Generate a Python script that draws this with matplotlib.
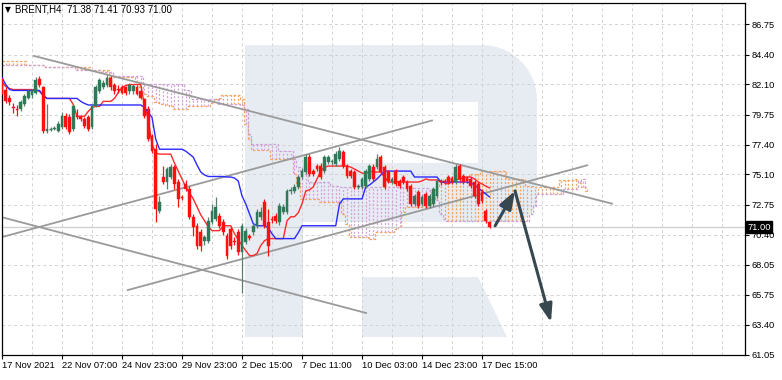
import numpy as np
import matplotlib
matplotlib.use("Agg")
import matplotlib.pyplot as plt
from matplotlib.patches import Polygon, Rectangle

# ---------------- data ----------------
opens = [82.47, 81.69, 81.07, 80.30, 80.15, 80.15, 80.53, 81.07, 81.23, 81.46,
         82.54, 81.85, 78.45, 78.60, 78.60, 78.45, 78.76, 79.61, 79.53, 78.60,
         79.61, 79.53, 79.37, 79.53, 78.76, 80.38, 81.54, 81.92, 82.08, 82.62,
         82.08, 81.77, 81.92, 81.85, 81.54, 81.54, 81.92, 81.54, 80.92, 80.15,
         78.06, 77.05, 72.26, 74.89, 74.50, 74.89, 75.66, 74.50, 73.34, 74.35,
         73.96, 71.80, 71.10, 70.64, 69.94, 69.94, 71.41, 71.64, 71.88, 71.41,
         70.33, 70.87, 69.94, 70.64, 69.09, 69.87, 70.33, 70.64, 71.10, 71.80,
         72.96, 71.41, 71.64, 71.88, 71.41, 72.19, 72.19, 73.81, 73.81, 74.12,
         74.89, 75.28, 76.44, 75.35, 75.74, 75.74, 75.35, 76.05, 76.05, 75.90,
         76.28, 76.82, 75.74, 75.35, 75.28, 74.12, 74.12, 74.19, 74.74, 75.66,
         75.66, 76.44, 75.66, 75.28, 74.50, 75.35, 74.58, 74.89, 74.50, 74.19,
         72.80, 73.73, 72.80, 73.58, 72.65, 72.80, 73.42, 74.58, 74.58, 74.89,
         74.81, 74.50, 75.74, 74.97, 74.81, 74.74, 74.50, 74.35, 73.73, 72.26,
         71.38]
highs = [82.62, 81.85, 81.23, 80.61, 80.46, 80.84, 81.31, 81.69, 81.77, 82.70,
         82.78, 82.00, 80.53, 78.76, 78.84, 79.22, 79.92, 79.84, 79.76, 80.53,
         80.15, 79.68, 79.53, 79.68, 80.53, 82.08, 82.62, 82.47, 82.85, 82.78,
         82.23, 82.08, 82.08, 82.00, 82.23, 82.15, 82.08, 81.77, 81.07, 80.38,
         78.21, 77.44, 73.42, 75.74, 75.66, 75.90, 75.82, 74.74, 73.50, 74.66,
         74.19, 72.03, 71.33, 70.87, 70.41, 71.80, 72.80, 73.34, 72.11, 71.64,
         70.56, 71.03, 70.25, 70.87, 71.33, 70.95, 70.48, 71.26, 72.42, 72.57,
         73.19, 72.42, 71.88, 72.11, 72.88, 72.80, 73.96, 74.12, 74.35, 75.05,
         75.59, 76.67, 76.67, 75.51, 75.90, 75.97, 76.59, 76.59, 76.28, 76.90,
         77.21, 76.98, 75.90, 75.51, 75.43, 74.35, 74.89, 75.51, 75.90, 75.90,
         76.67, 76.59, 75.82, 75.43, 74.89, 75.51, 74.74, 75.05, 74.66, 74.35,
         73.58, 73.89, 73.50, 73.73, 73.58, 74.12, 74.74, 74.74, 74.74, 75.05,
         74.97, 75.90, 75.90, 75.12, 74.97, 74.89, 74.66, 74.50, 73.96, 72.42,
         71.41]
lows = [81.31, 80.61, 80.46, 79.84, 79.61, 79.99, 80.38, 80.92, 81.07, 81.31,
        81.92, 78.29, 78.29, 78.45, 78.52, 78.37, 78.60, 78.60, 78.21, 78.45,
        79.37, 79.22, 78.68, 78.45, 78.60, 80.30, 81.46, 81.77, 81.92, 81.69,
        81.38, 81.46, 81.31, 81.23, 81.38, 81.38, 81.23, 80.92, 79.45, 77.67,
        76.75, 71.41, 72.11, 74.35, 73.96, 74.74, 73.96, 72.57, 73.11, 73.81,
        71.64, 70.33, 69.32, 69.17, 69.63, 69.79, 71.26, 71.49, 70.95, 70.41,
        68.55, 69.32, 69.63, 68.86, 65.85, 69.71, 70.02, 70.41, 70.95, 71.57,
        70.95, 68.78, 71.33, 71.33, 71.18, 72.03, 72.03, 73.58, 73.65, 73.96,
        74.74, 75.12, 74.97, 74.97, 75.35, 74.74, 75.20, 75.90, 75.82, 75.74,
        76.13, 75.59, 74.81, 74.81, 73.96, 73.96, 73.96, 74.04, 74.58, 74.58,
        75.51, 75.12, 73.96, 74.43, 74.35, 74.19, 74.04, 74.35, 73.81, 72.65,
        72.65, 72.49, 72.65, 72.49, 72.49, 72.65, 73.27, 74.27, 74.35, 74.35,
        74.35, 74.35, 74.58, 74.35, 74.43, 74.04, 73.27, 72.65, 72.88, 71.33,
        70.93]
closes = [81.46, 80.77, 80.69, 80.22, 80.07, 80.69, 81.15, 81.54, 81.62, 82.47,
          82.08, 78.45, 78.60, 78.62, 78.68, 78.99, 79.61, 78.76, 78.37, 80.38,
          79.53, 79.37, 78.84, 78.60, 80.38, 81.85, 82.47, 82.23, 82.62, 81.85,
          81.54, 81.69, 81.46, 81.46, 82.08, 82.00, 81.38, 81.07, 79.61, 77.83,
          76.90, 72.42, 72.96, 74.50, 75.51, 75.66, 74.35, 73.19, 73.27, 73.96,
          71.80, 71.03, 69.56, 69.56, 70.25, 71.49, 72.26, 72.57, 71.10, 70.64,
          68.71, 69.56, 69.87, 69.09, 71.10, 70.72, 70.18, 71.10, 72.19, 72.19,
          71.10, 69.56, 71.57, 71.49, 72.65, 72.57, 73.81, 73.89, 74.12, 74.89,
          75.35, 76.44, 75.12, 75.12, 75.51, 74.89, 76.44, 76.44, 76.13, 76.67,
          76.90, 75.74, 74.97, 74.97, 74.12, 74.19, 74.74, 75.35, 75.74, 74.74,
          76.28, 75.28, 74.12, 74.58, 74.74, 74.35, 74.19, 74.50, 73.96, 72.80,
          73.42, 72.65, 73.34, 72.65, 73.42, 73.96, 74.58, 74.47, 74.50, 74.50,
          74.50, 75.66, 74.74, 74.50, 74.58, 74.19, 73.42, 72.80, 73.04, 71.49,
          71.00]

tenkan = [82.31, 81.92, 81.77, 81.69, 81.69, 81.69, 81.69, 81.69, 81.69, 81.69,
          81.54, 81.23, 81.00, 81.00, 81.00, 81.00, 81.00, 81.00, 81.00, 80.53,
          79.61, 79.61, 79.61, 79.99, 80.30, 80.38, 80.38, 80.77, 80.77, 80.77,
          81.00, 81.46, 81.85, 82.00, 82.08, 82.08, 82.08, 82.08, 80.46, 79.37,
          77.44, 76.75, 76.67, 76.67, 76.67, 76.67, 75.97, 75.35, 74.74, 74.12,
          73.65, 73.19, 72.57, 71.95, 71.49, 71.03, 70.72, 70.72, 70.72, 71.10,
          71.10, 71.10, 70.48, 70.02, 69.56, 69.17, 68.78, 68.78, 68.94, 69.56,
          69.94, 70.10, 70.10, 70.10, 70.10, 70.10, 71.49, 71.80, 71.80, 72.11,
          72.80, 73.81, 73.89, 74.12, 74.74, 75.35, 75.66, 75.74, 75.74, 75.74,
          75.74, 75.74, 75.74, 75.66, 75.51, 75.35, 75.20, 75.12, 75.35, 75.28,
          75.28, 75.28, 74.89, 74.50, 74.50, 74.50, 74.50, 74.50, 74.50, 74.50,
          74.50, 74.50, 74.58, 74.74, 74.66, 74.66, 74.66, 74.58, 74.43, 74.35,
          74.50, 74.66, 74.74, 74.81, 74.89, 74.89, 74.74, 74.50, 74.35, 74.19,
          74.04]
kijun = [82.62, 82.08, 81.69, 81.62, 81.62, 81.62, 81.62, 81.62, 81.62, 81.62,
         81.62, 81.23, 81.00, 81.00, 81.00, 81.00, 81.00, 81.00, 81.00, 81.00,
         81.00, 80.77, 80.61, 80.49, 80.49, 80.49, 80.49, 80.49, 80.49, 80.49,
         80.49, 80.49, 80.49, 80.49, 80.49, 80.49, 80.49, 80.49, 80.30, 79.92,
         79.53, 77.83, 77.05, 77.05, 77.05, 77.05, 77.05, 77.05, 77.05, 76.90,
         76.67, 76.44, 75.82, 75.28, 75.05, 74.93, 74.93, 74.93, 74.93, 74.93,
         74.89, 74.89, 74.81, 74.58, 73.42, 72.80, 72.03, 71.26, 71.10, 71.10,
         71.10, 70.95, 70.48, 70.10, 70.10, 70.10, 70.10, 70.10, 70.10, 70.56,
         71.10, 71.10, 71.10, 71.10, 71.10, 71.10, 71.10, 71.10, 71.10, 71.10,
         72.80, 73.19, 73.19, 73.19, 73.19, 73.19, 73.19, 74.12, 74.27, 74.50,
         74.74, 75.05, 75.35, 75.35, 75.35, 75.35, 75.35, 75.35, 75.35, 75.35,
         74.89, 74.89, 74.89, 74.89, 74.89, 74.89, 74.89, 74.50, 74.50, 74.50,
         74.50, 74.50, 74.50, 74.50, 74.50, 74.43, 74.27, 74.04, 73.81, 73.58,
         73.34]

span_a = [83.93, 83.93, 83.93, 83.93, 83.93, 83.93, 83.93, 83.63, 83.63, 83.63,
          83.63, 83.63, 83.47, 83.47, 83.47, 83.47, 83.47, 83.47, 83.47, 83.47,
          83.47, 83.47, 83.47, 83.47, 83.24, 83.24, 83.24, 83.24, 83.24, 82.70,
          82.70, 82.70, 82.70, 82.70, 82.70, 82.70, 82.31, 81.85, 81.38, 81.15,
          81.15, 80.69, 80.61, 80.53, 80.46, 80.38, 80.15, 80.15, 80.15, 80.15,
          80.38, 80.38, 80.38, 80.38, 80.38, 80.38, 80.61, 80.92, 81.07, 81.23,
          81.23, 81.23, 81.23, 81.23, 80.92, 78.99, 77.83, 76.98, 76.98, 76.98,
          76.98, 76.98, 76.28, 76.28, 76.28, 76.28, 76.28, 76.28, 75.12, 74.43,
          73.19, 73.19, 73.19, 73.19, 73.19, 72.96, 72.96, 72.96, 72.96, 72.96,
          72.96, 72.03, 71.26, 70.25, 70.25, 70.25, 70.25, 70.25, 70.10, 70.10,
          70.64, 70.64, 70.64, 70.64, 70.64, 70.87, 71.03, 72.19, 72.57, 72.57,
          72.57, 72.57, 72.57, 72.57, 72.57, 73.19, 74.12, 74.50, 74.74, 74.74,
          74.74, 74.74, 74.74, 74.74, 74.74, 75.12, 75.12, 75.12, 75.35, 75.35,
          75.35, 75.35, 75.35, 75.35, 75.35, 74.74, 74.74, 74.74, 74.74, 74.74,
          74.19, 74.19, 74.12, 74.12, 74.12, 74.12, 74.12, 74.12, 74.12, 74.66,
          74.66, 74.66, 74.66, 74.74, 74.43, 74.12, 73.81]
span_b = [83.63, 83.63, 83.63, 83.63, 83.63, 83.63, 83.63, 83.63, 83.63, 83.63,
          83.63, 83.63, 83.47, 83.47, 83.47, 83.47, 83.47, 83.47, 83.47, 83.47,
          83.24, 83.24, 83.24, 83.24, 83.24, 83.24, 83.24, 83.08, 83.08, 83.08,
          82.78, 82.78, 82.78, 82.78, 82.78, 82.78, 82.78, 82.78, 82.16, 82.16,
          82.16, 82.16, 82.16, 82.16, 82.16, 82.16, 82.16, 82.16, 82.16, 81.69,
          81.69, 80.92, 80.92, 80.92, 80.92, 80.92, 80.92, 80.92, 80.53, 80.53,
          80.53, 80.53, 80.53, 80.53, 80.46, 80.15, 78.21, 77.44, 77.44, 77.44,
          77.44, 77.44, 77.44, 77.44, 76.90, 76.90, 76.90, 76.90, 76.28, 75.66,
          75.12, 75.12, 74.50, 74.50, 74.50, 74.50, 74.50, 74.50, 74.19, 74.19,
          74.12, 74.12, 74.12, 74.12, 74.12, 74.12, 74.12, 74.12, 74.12, 74.12,
          74.12, 74.12, 74.12, 74.12, 74.12, 74.12, 74.12, 74.12, 74.12, 74.12,
          74.04, 74.04, 74.04, 74.04, 73.89, 73.50, 73.11, 72.03, 71.64, 71.49,
          71.49, 71.49, 71.49, 71.49, 71.49, 71.49, 71.49, 71.49, 71.49, 71.49,
          71.49, 71.49, 71.49, 71.49, 71.49, 71.49, 71.49, 71.49, 71.49, 71.49,
          71.49, 72.03, 72.65, 73.58, 73.58, 73.58, 73.58, 73.58, 73.58, 73.58,
          73.96, 73.96, 73.96, 73.96, 74.58, 74.74, 74.12]

time_labels = ["17 Nov 2021", "22 Nov 07:00", "24 Nov 23:00", "29 Nov 23:00",
               "2 Dec 15:00", "7 Dec 11:00", "10 Dec 03:00", "14 Dec 23:00",
               "17 Dec 15:00"]
time_label_bars = [0, 16, 32, 48, 64, 80, 96, 112, 128]
price_ticks = [61.05, 63.40, 65.75, 68.05, 70.40, 72.75, 75.10, 77.40, 79.75,
               82.10, 84.40, 86.75]
last_price = 71.00
header_text = "BRENT,H4  71.38 71.41 70.93 71.00"

# analyst drawings: (bar, price) end points
trend_lines = [((8.3, 84.32), (162.9, 72.80)),
               ((-0.5, 71.80), (97.3, 64.30)),
               ((33.3, 66.08), (156.3, 75.82)),
               ((-0.5, 70.18), (114.9, 79.30))]
arrow_path = [(131.5, 71.10), (136.8, 73.81), (146.4, 63.60)]

# ---------------- figure ----------------
W, H = 782, 380
fig = plt.figure(figsize=(W / 100, H / 100), dpi=100)
left_px, right_px, top_px, bot_px = 1.5, 745, 3, 355
ax = fig.add_axes([left_px / W, 1 - bot_px / H, (right_px - left_px) / W,
                   (bot_px - top_px) / H])
ax.set_xlim(-0.13, 198.13)
ax.set_ylim(61.21, 88.42)
ax.set_facecolor("white")

# watermark logo (figure pixel geometry, decoration only)
def px(pts):
    return [(x / W, 1 - y / H) for x, y in pts]

wm = "#e7ecf3"
stem = [(245, 45), (303, 45), (303, 337), (245, 337)]
bowl = [(303, 45), (482, 45)]
for t in np.linspace(np.pi / 2, 0, 12):
    bowl.append((482 + 55 * np.cos(t), 100 - 55 * np.sin(t)))
bowl += [(537, 197)]
for t in np.linspace(0, -np.pi / 2, 8):
    bowl.append((512 + 25 * np.cos(t), 197 - 25 * np.sin(t)))
bowl += [(303, 222)]
leg = [(362, 277), (478, 277), (507, 337), (362, 337)]
hole = [(303, 102), (478, 102), (478, 163), (303, 163)]
for shape, col, z in [(stem, wm, 0.2), (bowl, wm, 0.2), (leg, wm, 0.2),
                      (hole, "white", 0.3)]:
    p = Polygon(px(shape), closed=True, facecolor=col, edgecolor="none",
                transform=fig.transFigure, zorder=z)
    ax.add_patch(p)

# grid
grid_kw = dict(color="#d2d2d2", lw=0.7, ls=(0, (3, 3)), zorder=0.5)
for b in range(0, 199, 8):
    ax.axvline(b, **grid_kw)
for pt in price_ticks:
    ax.axhline(pt, **grid_kw)

# Ichimoku cloud
nb = len(span_a)
xc = np.arange(nb)
sa = np.array(span_a)
sb = np.array(span_b)
up = sa >= sb
ax.vlines(xc[up], sb[up], sa[up], colors="#f4a460", lw=0.9,
          linestyles=(0, (1.6, 1.4)), zorder=1)
ax.vlines(xc[~up], sa[~up], sb[~up], colors="#d6a2dc", lw=0.9,
          linestyles=(0, (1.6, 1.4)), zorder=1)
ax.plot(xc, sa, color="#f4a460", lw=0.9, ls=(0, (2, 1.5)), zorder=1.1,
        drawstyle="steps-mid")
ax.plot(xc, sb, color="#cf9fd8", lw=0.9, ls=(0, (2, 1.5)), zorder=1.1,
        drawstyle="steps-mid")

# last price line
ax.axhline(last_price, color="#cfcfcf", lw=0.9, zorder=1.2)

# trend lines
for (x0, y0), (x1, y1) in trend_lines:
    ax.plot([x0, x1], [y0, y1], color="#9a9a9a", lw=1.3, zorder=2,
            solid_capstyle="butt")

# tenkan / kijun
xb = np.arange(len(closes))
ax.plot(xb, tenkan, color="#ff2a2a", lw=1.0, zorder=3)
ax.plot(xb, kijun, color="#2a2aff", lw=1.0, zorder=3)

# candles
o = np.array(opens); c = np.array(closes)
h = np.array(highs); l = np.array(lows)
bull = c > o
bear = ~bull
bull_col, bear_col = "#2e7a58", "#ff1010"
ax.vlines(xb[bull], l[bull], h[bull], colors="#5a7f6e", lw=0.9, zorder=4)
ax.vlines(xb[bear], l[bear], h[bear], colors=bear_col, lw=0.9, zorder=4)
bw = 0.7
for i in range(len(xb)):
    col = bull_col if bull[i] else bear_col
    lo_, hi_ = min(o[i], c[i]), max(o[i], c[i])
    if hi_ - lo_ < 0.05:
        ax.hlines(o[i], xb[i] - bw / 2 - 0.1, xb[i] + bw / 2 + 0.1,
                  colors=col, lw=1.0, zorder=4.1)
    else:
        ax.add_patch(Rectangle((xb[i] - bw / 2, lo_), bw, hi_ - lo_,
                               facecolor=col, edgecolor=col, lw=0.3,
                               zorder=4.1))

# arrows
arr_col = "#37474f"
for (xa, ya), (xb2, yb2) in zip(arrow_path[:-1], arrow_path[1:]):
    ax.annotate("", xy=(xb2, yb2), xytext=(xa, ya),
                arrowprops=dict(arrowstyle="-|>,head_length=0.9,head_width=0.32",
                                color=arr_col, lw=2.2, mutation_scale=12,
                                shrinkA=0, shrinkB=0), zorder=6)

# axes styling
fontfam = ["Liberation Sans", "DejaVu Sans"]
for sp in ax.spines.values():
    sp.set_color("#000000")
    sp.set_linewidth(0.9)
ax.yaxis.tick_right()
ax.set_yticks(price_ticks)
ax.set_yticklabels([f"{v:.2f}" for v in price_ticks], fontsize=6.7,
                   family=fontfam)
ax.tick_params(axis="y", length=3, width=0.8, pad=1.5, colors="#000000")
ax.set_xticks(time_label_bars)
ax.set_xticklabels(time_labels, fontsize=6.7, family=fontfam, ha="left")
ax.tick_params(axis="x", length=3, width=0.8, pad=1.5)
for lbl in ax.get_xticklabels():
    lbl.set_horizontalalignment("left")

# last price box
ax.text(1.003, last_price, f"{last_price:.2f}", transform=ax.get_yaxis_transform(),
        ha="left", va="center", fontsize=6.7, family=fontfam, color="white",
        bbox=dict(boxstyle="square,pad=0.15", fc="black", ec="black"),
        zorder=10, clip_on=False)

# header
fig.text(5 / W, 1 - 10 / H, "\u25bc", fontsize=5.5, family=["DejaVu Sans"],
         va="center", ha="left")
fig.text(15 / W, 1 - 10 / H, header_text, fontsize=7, family=fontfam,
         va="center", ha="left")

fig.savefig("out.png", dpi=100)
